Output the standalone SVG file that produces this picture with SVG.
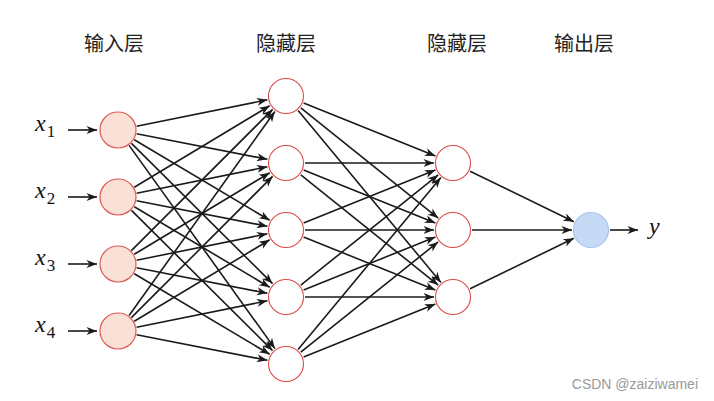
<svg xmlns="http://www.w3.org/2000/svg" width="714" height="401" viewBox="0 0 714 401">
<defs>
<marker id="arr" markerUnits="userSpaceOnUse" viewBox="-12 -5 13 10" refX="0" refY="0" markerWidth="13" markerHeight="10" orient="auto">
<path d="M0,0 L-10.5,-4 L-7.5,0 L-10.5,4 z" fill="#1a1a1a"/>
</marker>
</defs>
<style>
.e{stroke:#1a1a1a;stroke-width:1.6;fill:none;marker-end:url(#arr)}
.in{fill:#fbe0d6;stroke:#dc5a55;stroke-width:1.2}
.hd{fill:#ffffff;stroke:#dc4a45;stroke-width:1.1}
.out{fill:#c6daf6;stroke:#a9c4ec;stroke-width:1.2}
.lab{font-family:"Noto Sans CJK SC","Noto Sans",sans-serif;font-size:20px;fill:#222;text-anchor:middle}
.var{font-family:"Liberation Serif","DejaVu Serif",serif;font-size:24px;font-style:italic;fill:#111}
.sub{font-style:normal;font-size:17px}
.wm{font-family:"Liberation Sans",Arial,sans-serif;font-size:14px;fill:#999;text-anchor:end}
</style>
<rect width="714" height="401" fill="#ffffff"/>
<g id="labels">
<text class="lab" x="114" y="51">输入层</text>
<text class="lab" x="286" y="51">隐藏层</text>
<text class="lab" x="457" y="51">隐藏层</text>
<text class="lab" x="584" y="51">输出层</text>
</g>
<g id="connectors">
<line class="e" x1="68" y1="130" x2="97" y2="130"/>
<line class="e" x1="68" y1="197" x2="97" y2="197"/>
<line class="e" x1="68" y1="264" x2="97" y2="264"/>
<line class="e" x1="68" y1="331" x2="97" y2="331"/>
<line class="e" x1="136.6" y1="126.2" x2="267.4" y2="99.8"/>
<line class="e" x1="136.6" y1="133.7" x2="267.4" y2="159.3"/>
<line class="e" x1="134.3" y1="139.7" x2="269.7" y2="220.3"/>
<line class="e" x1="131.5" y1="143.4" x2="272.5" y2="283.6"/>
<line class="e" x1="129.1" y1="145.4" x2="274.9" y2="348.6"/>
<line class="e" x1="134.3" y1="187.2" x2="269.7" y2="105.8"/>
<line class="e" x1="136.6" y1="193.2" x2="267.4" y2="166.8"/>
<line class="e" x1="136.6" y1="200.7" x2="267.4" y2="226.3"/>
<line class="e" x1="134.3" y1="206.7" x2="269.7" y2="287.3"/>
<line class="e" x1="131.5" y1="210.4" x2="272.5" y2="350.6"/>
<line class="e" x1="131.4" y1="250.6" x2="272.6" y2="109.4"/>
<line class="e" x1="134.3" y1="254.2" x2="269.7" y2="172.8"/>
<line class="e" x1="136.6" y1="260.2" x2="267.4" y2="233.8"/>
<line class="e" x1="136.6" y1="267.7" x2="267.4" y2="293.3"/>
<line class="e" x1="134.3" y1="273.7" x2="269.7" y2="354.3"/>
<line class="e" x1="129.1" y1="315.5" x2="274.9" y2="111.5"/>
<line class="e" x1="131.4" y1="317.6" x2="272.6" y2="176.4"/>
<line class="e" x1="134.3" y1="321.2" x2="269.7" y2="239.8"/>
<line class="e" x1="136.6" y1="327.2" x2="267.4" y2="300.8"/>
<line class="e" x1="136.6" y1="334.7" x2="267.4" y2="360.3"/>
<line class="e" x1="303.6" y1="103.1" x2="435.4" y2="155.9"/>
<line class="e" x1="300.8" y1="107.9" x2="438.2" y2="218.1"/>
<line class="e" x1="298.1" y1="110.6" x2="440.9" y2="282.4"/>
<line class="e" x1="305" y1="163" x2="434" y2="163"/>
<line class="e" x1="303.6" y1="170.1" x2="435.4" y2="222.9"/>
<line class="e" x1="300.8" y1="174.9" x2="438.2" y2="285.1"/>
<line class="e" x1="303.6" y1="222.9" x2="435.4" y2="170.1"/>
<line class="e" x1="305" y1="230" x2="434" y2="230"/>
<line class="e" x1="303.6" y1="237.1" x2="435.4" y2="289.9"/>
<line class="e" x1="300.8" y1="285.1" x2="438.2" y2="174.9"/>
<line class="e" x1="303.6" y1="289.9" x2="435.4" y2="237.1"/>
<line class="e" x1="305" y1="297" x2="434" y2="297"/>
<line class="e" x1="298.1" y1="349.4" x2="440.9" y2="177.4"/>
<line class="e" x1="300.8" y1="352.1" x2="438.2" y2="241.9"/>
<line class="e" x1="303.6" y1="356.9" x2="435.4" y2="304.1"/>
<line class="e" x1="470.1" y1="171.3" x2="573.9" y2="221.7"/>
<line class="e" x1="472" y1="230" x2="572" y2="230"/>
<line class="e" x1="470.1" y1="288.7" x2="573.9" y2="238.3"/>
<line class="e" x1="610" y1="230" x2="638" y2="230"/>
</g>
<g id="in1"><circle class="in" cx="118" cy="130" r="18"/><text class="var" x="35" y="131">x<tspan class="sub" dx="1" dy="6">1</tspan></text></g>
<g id="in2"><circle class="in" cx="118" cy="197" r="18"/><text class="var" x="35" y="198">x<tspan class="sub" dx="1" dy="6">2</tspan></text></g>
<g id="in3"><circle class="in" cx="118" cy="264" r="18"/><text class="var" x="35" y="265">x<tspan class="sub" dx="1" dy="6">3</tspan></text></g>
<g id="in4"><circle class="in" cx="118" cy="331" r="18"/><text class="var" x="35" y="332">x<tspan class="sub" dx="1" dy="6">4</tspan></text></g>
<g id="h1a"><circle class="hd" cx="286" cy="96" r="17.5"/></g>
<g id="h1b"><circle class="hd" cx="286" cy="163" r="17.5"/></g>
<g id="h1c"><circle class="hd" cx="286" cy="230" r="17.5"/></g>
<g id="h1d"><circle class="hd" cx="286" cy="297" r="17.5"/></g>
<g id="h1e"><circle class="hd" cx="286" cy="364" r="17.5"/></g>
<g id="h2a"><circle class="hd" cx="453" cy="163" r="17.5"/></g>
<g id="h2b"><circle class="hd" cx="453" cy="230" r="17.5"/></g>
<g id="h2c"><circle class="hd" cx="453" cy="297" r="17.5"/></g>
<g id="out"><circle class="out" cx="591" cy="230" r="17.5"/><text class="var" x="649" y="234">y</text></g>
<text class="wm" x="698" y="389">CSDN @zaiziwamei</text>
</svg>
